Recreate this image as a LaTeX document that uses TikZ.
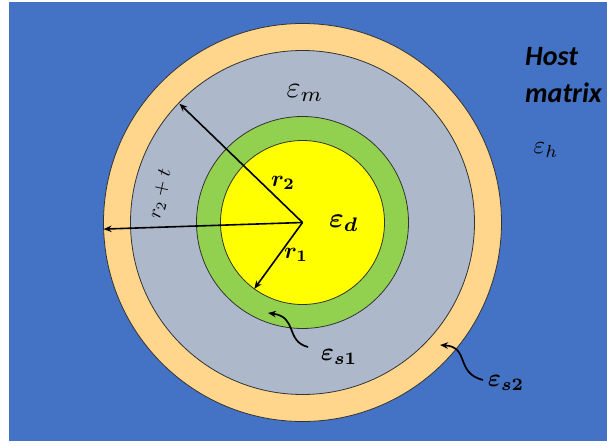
\documentclass[tikz,border=0pt]{standalone}
\usepackage{amsmath,bm}
\usepackage{fontspec}
\newfontfamily\hostfont{Carlito}
\usetikzlibrary{arrows.meta}
\definecolor{hostblue}{RGB}{68,114,196}
\definecolor{shelltwo}{RGB}{255,214,140}
\definecolor{matrixgray}{RGB}{173,185,202}
\definecolor{shellone}{RGB}{146,208,80}
\definecolor{coreyellow}{RGB}{255,255,0}
\begin{document}
\begin{tikzpicture}[x=1pt,y=1pt,
  % concentric layers of the particle
  layer/.style={draw=black!80, line width=0.8pt},
  % radii drawn from the centre, and the curly pointers to the thin shells
  rad/.style={-{Stealth[length=8pt,width=6.5pt]}, line width=1.6pt},
  curly/.style={-{Stealth[length=8pt,width=6.5pt]}, line width=1.7pt},
  lbl/.style={inner sep=0pt, text=black},
  ]
  \useasboundingbox (0,0) rectangle (607,445);
  \fill[hostblue] (9,4) rectangle (607,443);
  % ---- layers, outermost first ----------------------------------------------
  \coordinate (c) at (302.5,222.5);
  \draw[layer, fill=shelltwo]   (c) circle[radius=199];
  \draw[layer, fill=matrixgray] (c) circle[radius=172];
  \draw[layer, fill=shellone]   (c) circle[radius=106];
  \draw[layer, fill=coreyellow] (c) circle[radius=82];
  % ---- radii ------------------------------------------------------------------
  \coordinate (tip1) at ([shift={(234:82)}]c);
  \coordinate (tip2) at ([shift={(136:171)}]c);
  \coordinate (tipt) at ([shift={(181.9:199)}]c);
  \draw[rad] (c) -- (tip1);
  \draw[rad] (c) -- (tip2);
  \draw[rad] (c) -- (tipt);
  \node[lbl, scale=2.3] (lr1) at (296,190) {$\bm{r_1}$};
  \node[lbl, scale=2.3] (lr2) at (283,262) {$\bm{r_2}$};
  \node[lbl, scale=2.0, rotate=77] (lrt) at (161,251) {$r_2+t$};
  % ---- permittivities -------------------------------------------------------
  \node[lbl, scale=3.0] (em) at (305,352) {$\varepsilon_m$};
  \node[lbl, scale=2.8] (ed) at (344,222) {$\bm{\varepsilon_d}$};
  \node[lbl, scale=2.5] (eh) at (546,295) {$\varepsilon_h$};
  \node[lbl, scale=2.5] (es1) at (339,88) {$\bm{\varepsilon_{s1}}$};
  \node[lbl, scale=2.5] (es2) at (506,62) {$\bm{\varepsilon_{s2}}$};
  \node[lbl, anchor=west, align=left,
        font=\hostfont\bfseries\itshape\fontsize{28}{37}\selectfont]
    (host) at (525,370) {Host\\matrix};
  % ---- pointers to the thin shells ------------------------------------------
  \coordinate (s1a) at (308,98);
  \coordinate (s1b) at (268,132);
  \coordinate (s2a) at (483,65);
  \coordinate (s2b) at (440,100);
  \draw[curly] (s1a) .. controls (285,104) and (298,128) .. (s1b);
  \draw[curly] (s2a) .. controls (455,72) and (470,98) .. (s2b);
\end{tikzpicture}
\end{document}
